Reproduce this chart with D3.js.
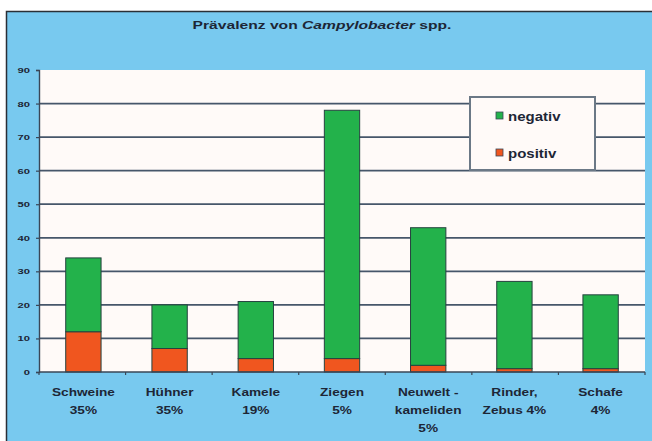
<!DOCTYPE html>
<html>
<head>
<meta charset="utf-8">
<script src="https://cdn.jsdelivr.net/npm/d3@7"></script>
<style>
  html, body { margin: 0; padding: 0; background: #ffffff; }
  svg { display: block; }
</style>
</head>
<body>
<svg id="chart" width="652" height="441"></svg>
<script>
// Prevalence data per animal group
const categories = ["Schweine", "Hühner", "Kamele", "Ziegen", "Neuwelt", "Rinder", "Schafe"];
const categoryLabels = [
  ["Schweine", "35%"],
  ["Hühner", "35%"],
  ["Kamele", "19%"],
  ["Ziegen", "5%"],
  ["Neuwelt -", "kameliden", "5%"],
  ["Rinder,", "Zebus 4%"],
  ["Schafe", "4%"]
];
const positiv = [12, 7, 4, 4, 2, 1, 1];
const negativ = [22, 13, 17, 74, 41, 26, 22];
const seriesNames = ["positiv", "negativ"];
const legendOrder = ["negativ", "positiv"];
const yTicks = [0, 10, 20, 30, 40, 50, 60, 70, 80, 90];
const titleText = "Prävalenz von ";
const titleItalic = "Campylobacter";
const titleTail = " spp.";

const colors = { positiv: "#f0561f", negativ: "#23b24b" };
const FONT = "Liberation Sans, Arial, sans-serif";
const INK = "#1d2636";

const svg = d3.select("#chart");
const W = 652, H = 441;

// horizontally widened text placed at (px, py)
function wideText(parent, px, py, sx, anchor) {
  return parent.append("g").attr("transform", `translate(${px},${py}) scale(${sx},1)`)
    .append("text").attr("x", 0).attr("y", 0).attr("text-anchor", anchor)
    .attr("font-family", FONT).attr("font-weight", "bold").attr("fill", INK);
}

// outer chart frame
svg.append("rect").attr("x", 6.5).attr("y", 11.5).attr("width", W).attr("height", H)
  .attr("fill", "#78c9ef").attr("stroke", "#2a2f36").attr("stroke-width", 1.5);

const plot = { left: 39, right: 645, top: 70, bottom: 372 };

const x = d3.scaleBand().domain(categories).range([plot.left, plot.right]).paddingInner(0.59).paddingOuter(0.31);
const y = d3.scaleLinear().domain([0, 90]).range([plot.bottom, plot.top]);

// plot area
svg.append("rect").attr("x", plot.left).attr("y", plot.top)
  .attr("width", plot.right - plot.left).attr("height", plot.bottom - plot.top)
  .attr("fill", "#fffaf8");

// horizontal grid lines
svg.append("g").selectAll("line").data(yTicks.filter(d => d > 0 && d < 90)).join("line")
  .attr("x1", plot.left).attr("x2", plot.right)
  .attr("y1", d => y(d)).attr("y2", d => y(d))
  .attr("stroke", "#46566a").attr("stroke-width", 1.8);

// y axis
const yAxis = d3.axisLeft(y).tickValues(yTicks).tickSize(3).tickFormat(() => "");
const gy = svg.append("g").attr("transform", `translate(${plot.left},0)`).call(yAxis);
gy.select(".domain").attr("stroke", "#3a4656").attr("stroke-width", 1.4);
gy.selectAll(".tick line").attr("stroke", "#3a4656").attr("stroke-width", 1.2);
const yLab = svg.append("g");
yTicks.forEach(v => {
  wideText(yLab, 30, y(v) + 3, 1.4, "end").attr("font-size", 8).text(y.tickFormat()(v));
});

// stacked bars
const rows = categories.map((c, i) => ({ cat: c, positiv: positiv[i], negativ: negativ[i] }));
const stack = d3.stack().keys(seriesNames)(rows);
svg.append("g").selectAll("g").data(stack).join("g")
  .attr("fill", d => colors[d.key])
  .selectAll("rect").data(d => d).join("rect")
  .attr("x", d => x(d.data.cat))
  .attr("width", x.bandwidth())
  .attr("y", d => y(d[1]))
  .attr("height", d => y(d[0]) - y(d[1]))
  .attr("stroke", "#26423f").attr("stroke-width", 1);

// x axis with ticks between categories
const boundaries = d3.range(categories.length + 1).map(i => plot.left + i * (plot.right - plot.left) / categories.length);
svg.append("line").attr("x1", plot.left).attr("x2", plot.right)
  .attr("y1", plot.bottom).attr("y2", plot.bottom)
  .attr("stroke", "#3a4656").attr("stroke-width", 1.4);
svg.append("g").selectAll("line").data(boundaries).join("line")
  .attr("x1", d => d).attr("x2", d => d)
  .attr("y1", plot.bottom).attr("y2", plot.bottom + 3)
  .attr("stroke", "#3a4656").attr("stroke-width", 1.2);

// category labels
const labG = svg.append("g");
categories.forEach((c, i) => {
  const cx = x(c) + x.bandwidth() / 2;
  categoryLabels[i].forEach((line, j) => {
    wideText(labG, cx, 396 + j * 18, 1.3, "middle").attr("font-size", 10.5).text(line);
  });
});

// title
const title = wideText(svg, 322, 29, 1.36, "middle").attr("font-size", 11.5);
title.append("tspan").text(titleText);
title.append("tspan").attr("font-style", "italic").text(titleItalic);
title.append("tspan").text(titleTail);

// legend
const lg = svg.append("g");
lg.append("rect").attr("x", 470).attr("y", 97).attr("width", 125).attr("height", 73)
  .attr("fill", "#fffaf8").attr("stroke", "#6b7886").attr("stroke-width", 2);
legendOrder.forEach((k, i) => {
  const yy = 112 + i * 37;
  lg.append("rect").attr("x", 496).attr("y", yy).attr("width", 7).attr("height", 7)
    .attr("fill", colors[k]).attr("stroke", "#3a4656").attr("stroke-width", 0.8);
  wideText(lg, 508, yy + 9, 1.2, "start").attr("font-size", 12.5).text(k);
});
</script>
</body>
</html>
